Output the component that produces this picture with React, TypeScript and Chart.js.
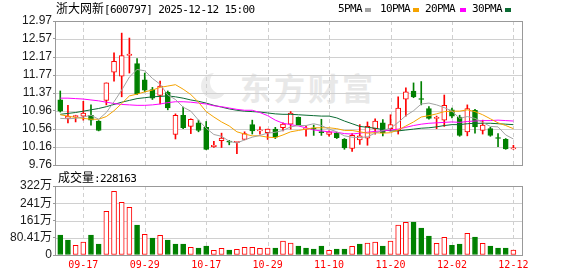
import React, { useEffect, useRef } from 'react';
import { Chart, registerables } from 'chart.js';

Chart.register(...registerables);

// ---------- data ----------
const dates = [
  '09-12', '09-15', '09-16', '09-17', '09-18', '09-19', '09-22', '09-23', '09-24', '09-25',
  '09-26', '09-29', '09-30', '10-09', '10-10', '10-13', '10-14', '10-15', '10-16', '10-17',
  '10-20', '10-21', '10-22', '10-23', '10-24', '10-27', '10-28', '10-29', '10-30', '10-31',
  '11-03', '11-04', '11-05', '11-06', '11-07', '11-10', '11-11', '11-12', '11-13', '11-14',
  '11-17', '11-18', '11-19', '11-20', '11-21', '11-24', '11-25', '11-26', '11-27', '11-28',
  '12-01', '12-02', '12-03', '12-04', '12-05', '12-08', '12-09', '12-10', '12-11', '12-12',
];

const opens = [
  11.21, 10.80, 10.84, 10.85, 10.87, 10.74, 11.20, 11.83, 11.74, 12.20,
  12.02, 11.66, 11.44, 11.31, 11.38, 10.44, 10.87, 10.62, 10.70, 10.60,
  10.17, 10.30, 10.28, 10.26, 10.33, 10.66, 10.52, 10.48, 10.56, 10.59,
  10.67, 10.82, 10.56, 10.58, 10.50, 10.44, 10.47, 10.33, 10.13, 10.32,
  10.36, 10.57, 10.70, 10.57, 10.53, 11.23, 11.41, 11.23, 11.02, 10.80,
  10.76, 10.99, 10.83, 10.50, 10.98, 10.53, 10.57, 10.37, 10.33, 10.12,
];
const highs = [
  11.41, 11.09, 10.87, 11.18, 11.10, 10.75, 11.59, 12.26, 12.70, 12.59,
  12.13, 11.81, 11.49, 11.63, 11.41, 10.90, 11.05, 10.79, 10.76, 10.73,
  10.29, 10.47, 10.31, 10.29, 10.50, 10.76, 10.61, 10.56, 10.60, 10.70,
  10.95, 10.83, 10.63, 10.65, 10.78, 10.52, 10.49, 10.35, 10.46, 10.66,
  10.72, 10.79, 10.77, 10.88, 11.28, 11.48, 11.59, 11.62, 11.06, 10.85,
  11.32, 11.03, 10.87, 11.10, 11.00, 10.76, 10.60, 10.46, 10.35, 10.20,
];
const lows = [
  10.94, 10.70, 10.72, 10.76, 10.65, 10.52, 11.10, 11.63, 11.28, 11.81,
  11.33, 11.39, 11.22, 11.12, 10.99, 10.34, 10.57, 10.46, 10.50, 10.10,
  10.15, 10.15, 10.21, 10.01, 10.32, 10.45, 10.45, 10.33, 10.35, 10.52,
  10.56, 10.65, 10.40, 10.42, 10.42, 10.40, 10.35, 10.11, 10.06, 10.22,
  10.20, 10.45, 10.41, 10.52, 10.45, 10.85, 11.26, 11.10, 10.78, 10.57,
  10.62, 10.81, 10.40, 10.41, 10.47, 10.45, 10.40, 10.17, 10.11, 10.11,
];
const closes = [
  10.96, 10.85, 10.86, 10.92, 10.76, 10.53, 11.59, 12.07, 12.20, 12.23,
  11.35, 11.43, 11.25, 11.52, 11.03, 10.87, 10.59, 10.78, 10.53, 10.11,
  10.20, 10.36, 10.27, 10.29, 10.46, 10.52, 10.54, 10.56, 10.38, 10.67,
  10.92, 10.66, 10.58, 10.56, 10.48, 10.50, 10.37, 10.14, 10.42, 10.41,
  10.62, 10.74, 10.48, 10.66, 11.03, 11.39, 11.28, 11.22, 10.80, 10.82,
  11.09, 10.85, 10.42, 11.02, 10.61, 10.65, 10.42, 10.35, 10.12, 10.14,
];
const volumes = [
  932000, 699000, 452000, 606000, 932000, 513000, 2037000, 2969000, 2456000, 2223000,
  1398000, 965000, 792000, 918000, 699000, 513000, 513000, 357000, 326000, 420000,
  218000, 311000, 233000, 264000, 357000, 357000, 311000, 326000, 326000, 653000,
  559000, 420000, 326000, 280000, 420000, 218000, 280000, 280000, 404000, 513000,
  559000, 606000, 420000, 653000, 1398000, 1524000, 1538000, 1259000, 886000, 544000,
  825000, 452000, 513000, 1011000, 839000, 544000, 420000, 326000, 326000, 228163,
];
const ma5 = [
  10.80, 10.79, 10.80, 10.83, 10.87, 10.78, 10.93, 11.17, 11.43, 11.72,
  11.89, 11.86, 11.69, 11.56, 11.32, 11.22, 11.05, 10.96, 10.76, 10.58,
  10.44, 10.40, 10.29, 10.25, 10.32, 10.38, 10.42, 10.47, 10.49, 10.53,
  10.61, 10.64, 10.64, 10.68, 10.64, 10.56, 10.50, 10.41, 10.38, 10.37,
  10.39, 10.47, 10.53, 10.58, 10.71, 10.86, 10.97, 11.12, 11.14, 11.10,
  11.04, 10.96, 10.80, 10.84, 10.80, 10.71, 10.62, 10.61, 10.43, 10.34,
];
const ma10 = [
  10.88, 10.85, 10.82, 10.80, 10.78, 10.78, 10.84, 10.97, 11.13, 11.30,
  11.34, 11.39, 11.43, 11.49, 11.52, 11.55, 11.45, 11.33, 11.16, 10.95,
  10.83, 10.72, 10.63, 10.50, 10.45, 10.41, 10.41, 10.38, 10.37, 10.43,
  10.50, 10.53, 10.56, 10.59, 10.59, 10.59, 10.57, 10.53, 10.53, 10.50,
  10.47, 10.48, 10.47, 10.48, 10.54, 10.63, 10.72, 10.83, 10.86, 10.90,
  10.95, 10.96, 10.96, 10.99, 10.95, 10.88, 10.79, 10.70, 10.64, 10.57,
];
const ma20 = [
  11.25, 11.25, 11.24, 11.23, 11.21, 11.19, 11.16, 11.13, 11.11, 11.10,
  11.09, 11.09, 11.10, 11.12, 11.15, 11.17, 11.17, 11.16, 11.14, 11.12,
  11.08, 11.06, 11.03, 11.00, 10.98, 10.98, 10.93, 10.86, 10.76, 10.69,
  10.66, 10.63, 10.59, 10.54, 10.52, 10.50, 10.49, 10.46, 10.45, 10.47,
  10.49, 10.51, 10.52, 10.54, 10.56, 10.60, 10.64, 10.67, 10.69, 10.70,
  10.71, 10.72, 10.71, 10.73, 10.74, 10.75, 10.75, 10.76, 10.75, 10.74,
];
const ma30 = [
  10.89, 10.91, 10.93, 10.96, 10.99, 11.02, 11.06, 11.11, 11.16, 11.20,
  11.24, 11.26, 11.28, 11.29, 11.30, 11.28, 11.25, 11.21, 11.18, 11.14,
  11.09, 11.05, 11.01, 10.98, 10.96, 10.95, 10.94, 10.92, 10.90, 10.89,
  10.89, 10.88, 10.87, 10.86, 10.85, 10.85, 10.81, 10.74, 10.68, 10.62,
  10.60, 10.58, 10.55, 10.52, 10.52, 10.54, 10.56, 10.58, 10.59, 10.61,
  10.64, 10.66, 10.66, 10.68, 10.69, 10.69, 10.69, 10.68, 10.67, 10.66,
];

const labeledDates = ['09-17', '09-29', '10-17', '10-29', '11-10', '11-20', '12-02', '12-12'];
const priceTickLabels = ['9.76', '10.16', '10.56', '10.96', '11.37', '11.77', '12.17', '12.57', '12.97'];
const volTickLabels = ['0', '80.41万', '161万', '241万', '322万'];
const priceMin = 9.76;
const priceMax = 12.97;
const volMax = 3216400;
const lastVolume = 228163;

const maNames = ['5PMA', '10PMA', '20PMA', '30PMA'];

// ---------- styles ----------
const RED = '#ff0000';
const GREEN = '#008000';
const MA_COLORS = ['#a3a3a3', '#f5a300', '#ff00ff', '#0b6b33'];
const MONO = "'DejaVu Sans Mono', monospace";
const CJK = "'Noto Sans CJK SC', sans-serif";
const AXISFONT = "'Liberation Sans', 'Noto Sans CJK SC', sans-serif";

const X_MIN = -0.685;
const X_MAX = 60.12;

const idx = dates.map((_, i) => i);
const up = idx.map((i) => closes[i] >= opens[i]);
const volUp = idx.map((i) => (i === 0 ? up[0] : closes[i] >= closes[i - 1]));

function makeFrame(tickValues: number[]) {
  return {
    id: 'frame',
    beforeDatasetsDraw(chart: any) {
      const { ctx, chartArea: a, scales } = chart;
      const yS = scales.y;
      const xS = scales.x;
      ctx.save();
      ctx.lineWidth = 1;
      ctx.strokeStyle = '#d0d0d0';
      tickValues.forEach((v) => {
        const y = Math.round(yS.getPixelForValue(v)) + 0.5;
        ctx.beginPath();
        ctx.moveTo(a.left, y);
        ctx.lineTo(a.right, y);
        ctx.stroke();
      });
      ctx.setLineDash([4, 3]);
      labeledDates.forEach((d) => {
        const x = Math.round(xS.getPixelForValue(dates.indexOf(d))) + 0.5;
        ctx.beginPath();
        ctx.moveTo(x, a.top);
        ctx.lineTo(x, a.bottom);
        ctx.stroke();
      });
      ctx.setLineDash([]);
      ctx.strokeStyle = '#999999';
      ctx.strokeRect(a.left + 0.5, a.top + 0.5, a.right - a.left, a.bottom - a.top);
      ctx.restore();
    },
  };
}

function xScale(display: boolean) {
  const s: any = {
    type: 'linear',
    display,
    offset: false,
    min: X_MIN,
    max: X_MAX,
    bounds: 'data',
    afterBuildTicks: (sc: any) => {
      sc.ticks = labeledDates.map((d) => ({ value: dates.indexOf(d) }));
    },
    ticks: {
      autoSkip: false,
      maxRotation: 0,
      minRotation: 0,
      padding: 4,
      color: RED,
      font: { family: MONO, size: 10 },
      callback: (_v: any, i: number) => labeledDates[i],
    },
    grid: { display: false, drawTicks: false, offset: false },
    border: { display: false },
  };
  if (display) {
    s.afterFit = (sc: any) => {
      sc.height = 21;
    };
  }
  return s;
}

function yScale(min: number, max: number, labels: string[]) {
  return {
    type: 'linear',
    position: 'left',
    min,
    max,
    bounds: 'data',
    afterBuildTicks: (s: any) => {
      s.ticks = labels.map((_, k) => ({ value: min + (k * (max - min)) / (labels.length - 1) }));
    },
    afterFit: (s: any) => {
      s.width = 55;
    },
    ticks: {
      autoSkip: false,
      padding: 1,
      color: '#1a1a1a',
      font: { family: AXISFONT, size: 12 },
      callback: (_v: any, i: number) => labels[i],
    },
    grid: { display: true, drawOnChartArea: false, drawTicks: true, tickLength: 2, color: '#999999' },
    border: { display: false },
  };
}

export default function App() {
  const priceRef = useRef<HTMLCanvasElement>(null);
  const volRef = useRef<HTMLCanvasElement>(null);

  useEffect(() => {
    const priceTickVals = priceTickLabels.map(
      (_, k) => priceMin + (k * (priceMax - priceMin)) / (priceTickLabels.length - 1)
    );
    const volTickVals = volTickLabels.map((_, k) => (k * volMax) / (volTickLabels.length - 1));

    const mas = [ma5, ma10, ma20, ma30];

    const priceChart = new Chart(priceRef.current as HTMLCanvasElement, {
      type: 'bar',
      data: {
        datasets: [
          ...mas.map((arr, k) => ({
            type: 'line',
            label: maNames[k],
            data: idx.map((i) => ({ x: i, y: arr[i] })),
            borderColor: MA_COLORS[k],
            borderWidth: 1,
            pointRadius: 0,
            fill: false,
            tension: 0,
            order: 0,
          })),
          {
            type: 'bar',
            label: 'body',
            data: idx.map((i) => ({ x: i, y: [opens[i], closes[i]] })),
            backgroundColor: idx.map((i) => (up[i] ? '#ffffff' : GREEN)),
            borderColor: idx.map((i) => (up[i] ? RED : GREEN)),
            borderWidth: 1,
            borderSkipped: false,
            barThickness: 5,
            minBarLength: 1,
            grouped: false,
            order: 1,
          },
          {
            type: 'bar',
            label: 'wick',
            data: idx.map((i) => ({ x: i, y: [lows[i], highs[i]] })),
            backgroundColor: idx.map((i) => (up[i] ? RED : GREEN)),
            borderWidth: 0,
            barThickness: 1,
            grouped: false,
            order: 2,
          },
        ] as any,
      },
      options: {
        responsive: false,
        maintainAspectRatio: false,
        animation: false,
        devicePixelRatio: 1,
        events: [],
        layout: { padding: { left: 0, top: 21, right: 56, bottom: 111 } },
        plugins: { legend: { display: false }, tooltip: { enabled: false } },
        scales: {
          x: xScale(false),
          y: yScale(priceMin, priceMax, priceTickLabels),
        } as any,
      },
      plugins: [makeFrame(priceTickVals)],
    } as any);

    const volChart = new Chart(volRef.current as HTMLCanvasElement, {
      type: 'bar',
      data: {
        datasets: [
          {
            label: '成交量',
            data: idx.map((i) => ({ x: i, y: volumes[i] })),
            backgroundColor: idx.map((i) => (volUp[i] ? '#ffffff' : GREEN)),
            borderColor: idx.map((i) => (volUp[i] ? RED : GREEN)),
            borderWidth: 1,
            borderSkipped: false,
            barThickness: 5,
            grouped: false,
          },
        ] as any,
      },
      options: {
        responsive: false,
        maintainAspectRatio: false,
        animation: false,
        devicePixelRatio: 1,
        events: [],
        layout: { padding: { left: 0, top: 186, right: 56, bottom: 0 } },
        plugins: { legend: { display: false }, tooltip: { enabled: false } },
        scales: {
          x: xScale(true),
          y: yScale(0, volMax, volTickLabels),
        } as any,
      },
      plugins: [makeFrame(volTickVals)],
    } as any);

    return () => {
      priceChart.destroy();
      volChart.destroy();
    };
  }, []);

  const legendPos = [338, 380, 425, 472];
  const squarePos = [365, 413, 460, 505];

  return (
    <div
      style={{
        position: 'fixed',
        left: 0,
        top: 0,
        width: 578,
        height: 276,
        background: '#ffffff',
        overflow: 'hidden',
      }}
    >
      {/* watermark */}
      <div
        style={{
          position: 'absolute',
          left: 201,
          top: 73,
          width: 26,
          height: 26,
          borderRadius: '50%',
          background: '#ececec',
        }}
      />
      <div
        style={{
          position: 'absolute',
          left: 210,
          top: 70,
          width: 24,
          height: 24,
          borderRadius: '50%',
          background: '#ffffff',
        }}
      />
      <div
        style={{
          position: 'absolute',
          left: 240,
          top: 71,
          fontFamily: CJK,
          fontWeight: 700,
          fontSize: 31,
          lineHeight: '32px',
          letterSpacing: 3,
          color: '#e8e8e8',
          whiteSpace: 'nowrap',
        }}
      >
        东方财富
      </div>

      <canvas
        ref={priceRef}
        width={578}
        height={276}
        style={{ position: 'absolute', left: 0, top: 0, width: 578, height: 276 }}
      />
      <canvas
        ref={volRef}
        width={578}
        height={276}
        style={{ position: 'absolute', left: 0, top: 0, width: 578, height: 276 }}
      />

      {/* title */}
      <div
        style={{
          position: 'absolute',
          left: 56,
          top: 1,
          lineHeight: '14px',
          whiteSpace: 'nowrap',
          color: '#000',
        }}
      >
        <span style={{ fontFamily: CJK, fontSize: 12 }}>浙大网新</span>
        <span style={{ fontFamily: MONO, fontSize: 11, letterSpacing: -0.6 }}>[600797] 2025-12-12 15:00</span>
      </div>

      {/* legend */}
      {maNames.map((name, k) => (
        <React.Fragment key={name}>
          <div
            style={{
              position: 'absolute',
              left: legendPos[k],
              top: 2,
              lineHeight: '14px',
              fontFamily: MONO,
              fontSize: 11,
              letterSpacing: -0.6,
              color: '#000',
              whiteSpace: 'nowrap',
            }}
          >
            {name}
          </div>
          <div
            style={{
              position: 'absolute',
              left: squarePos[k],
              top: 8,
              width: 6,
              height: 4,
              background: MA_COLORS[k],
            }}
          />
        </React.Fragment>
      ))}

      {/* volume caption */}
      <div
        style={{
          position: 'absolute',
          left: 58,
          top: 170,
          lineHeight: '14px',
          whiteSpace: 'nowrap',
          color: '#000',
        }}
      >
        <span style={{ fontFamily: CJK, fontSize: 12 }}>成交量</span>
        <span style={{ fontFamily: MONO, fontSize: 11, letterSpacing: -0.6 }}>:{lastVolume}</span>
      </div>
    </div>
  );
}
